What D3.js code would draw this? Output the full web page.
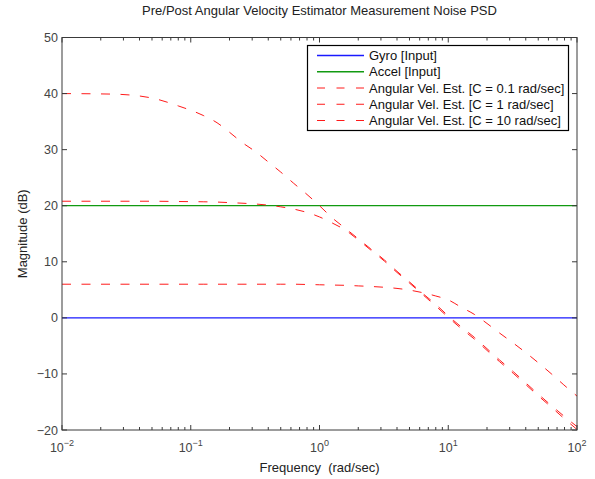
<!DOCTYPE html>
<html>
<head>
<meta charset="utf-8">
<script src="https://cdn.jsdelivr.net/npm/d3@7"></script>
<style>
  body { margin: 0; background: #fff; }
  text { font-family: "Liberation Sans", Arial, Helvetica, sans-serif; }
</style>
</head>
<body>
<div id="chart"></div>
<script>
var freq = [0.01, 0.025, 0.05, 0.08, 0.125, 0.16, 0.2, 0.25, 0.32, 0.4, 0.5, 0.63, 0.8, 1,
	    1.26, 1.6, 2, 2.5, 3.2, 4, 5, 6.3, 8, 10, 12.6, 16, 20, 25, 32, 40, 50, 63, 79, 100];
var gyro = freq.map(() => 0);
var accel = freq.map(() => 20);
var est01 = [40.0, 39.9, 39.2, 37.8, 36.1, 34.8, 33.1, 31.3, 29.6, 27.8, 26.0, 24.0, 22.0, 20.0,
	     17.8, 15.9, 14.1, 12.3, 10.3, 8.3, 6.4, 4.4, 2.4, 0.35, -1.6, -3.5, -5.5, -7.5, -9.6,
	     -11.6, -13.6, -15.6, -17.5, -19.4];
var est1 = [20.8, 20.8, 20.8, 20.75, 20.7, 20.65, 20.55, 20.45, 20.3, 20.1, 19.8, 19.4, 18.8, 18.0,
	    16.9, 15.6, 13.9, 12.1, 10.1, 8.1, 6.2, 4.2, 2.1, 0.1, -1.9, -3.8, -5.8, -7.8, -9.9,
	    -11.9, -13.9, -15.9, -17.9, -19.9];
var est10 = [6.0, 6.0, 6.0, 6.0, 6.0, 6.0, 6.0, 6.0, 6.0, 6.0, 6.0, 6.0, 5.95, 5.9,
	     5.85, 5.8, 5.7, 5.6, 5.45, 5.25, 4.95, 4.5, 3.9, 3.2, 1.9, 0.6, -1.0, -2.7, -4.5,
	     -6.2, -8.0, -9.95, -11.95, -13.95];

var series = [
    {name: 'Gyro [Input]', values: gyro, color: '#1a1aff', dash: null, width: 1.3},
    {name: 'Accel [Input]', values: accel, color: '#119a11', dash: null, width: 1.3},
    {name: 'Angular Vel. Est. [C = 0.1 rad/sec]', values: est01, color: '#ff1a1a', dash: '9,10.5', width: 1},
    {name: 'Angular Vel. Est. [C = 1 rad/sec]', values: est1, color: '#ff1a1a', dash: '9,10.5', width: 1},
    {name: 'Angular Vel. Est. [C = 10 rad/sec]', values: est10, color: '#ff1a1a', dash: '9,10.5', width: 1}
];
var xDecades = [-2, -1, 0, 1, 2];
var yTicks = [-20, -10, 0, 10, 20, 30, 40, 50];

var W = 595, H = 479;
var plotLeft = 62, plotRight = 577, plotTop = 37.5, plotBottom = 430;
var axisColor = '#3a3a3a';

var svg = d3.select('#chart').append('svg')
    .attr('width', W)
    .attr('height', H);

var x = d3.scaleLog().domain([0.01, 100]).range([plotLeft, plotRight]);
var y = d3.scaleLinear().domain([-20, 50]).range([plotBottom, plotTop]);

svg.append('defs').append('clipPath').attr('id', 'plotclip')
    .append('rect')
    .attr('x', plotLeft).attr('y', plotTop)
    .attr('width', plotRight - plotLeft).attr('height', plotBottom - plotTop);

// curves
var line = d3.line()
    .x((d, i) => x(freq[i]))
    .y(d => y(d))
    .curve(d3.curveMonotoneX);

var plot = svg.append('g').attr('clip-path', 'url(#plotclip)');
series.forEach(s => {
    plot.append('path')
	.datum(s.values)
	.attr('fill', 'none')
	.attr('stroke', s.color)
	.attr('stroke-width', s.width)
	.attr('stroke-dasharray', s.dash)
	.attr('d', line);
});

// box and ticks
var axes = svg.append('g')
    .attr('stroke', axisColor)
    .attr('stroke-width', 1)
    .attr('fill', 'none');
axes.append('rect')
    .attr('x', plotLeft).attr('y', plotTop)
    .attr('width', plotRight - plotLeft).attr('height', plotBottom - plotTop);

var minor = [];
xDecades.slice(0, -1).forEach(e => {
    for (var k = 2; k <= 9; k++) minor.push(k * Math.pow(10, e));
});
minor.forEach(f => {
    axes.append('line').attr('x1', x(f)).attr('x2', x(f)).attr('y1', plotBottom).attr('y2', plotBottom - 3);
    axes.append('line').attr('x1', x(f)).attr('x2', x(f)).attr('y1', plotTop).attr('y2', plotTop + 3);
});
xDecades.forEach(e => {
    var f = Math.pow(10, e);
    axes.append('line').attr('x1', x(f)).attr('x2', x(f)).attr('y1', plotBottom).attr('y2', plotBottom - 5);
    axes.append('line').attr('x1', x(f)).attr('x2', x(f)).attr('y1', plotTop).attr('y2', plotTop + 5);
});
yTicks.forEach(v => {
    axes.append('line').attr('x1', plotLeft).attr('x2', plotLeft + 5).attr('y1', y(v)).attr('y2', y(v));
    axes.append('line').attr('x1', plotRight).attr('x2', plotRight - 5).attr('y1', y(v)).attr('y2', y(v));
});

// tick labels
svg.selectAll('.ylab')
    .data(yTicks)
    .enter().append('text')
    .attr('x', plotLeft - 4)
    .attr('y', d => y(d) + 4.5)
    .attr('text-anchor', 'end')
    .attr('font-size', 12.5)
    .attr('fill', '#444')
    .text(d => d < 0 ? '\u2212' + Math.abs(d) : d);

xDecades.forEach(e => {
    var t = svg.append('text')
	.attr('x', x(Math.pow(10, e)))
	.attr('y', 452)
	.attr('text-anchor', 'middle')
	.attr('font-size', 12.5)
	.attr('fill', '#444');
    t.append('tspan').text('10');
    t.append('tspan')
	.attr('dy', -6)
	.attr('font-size', 9)
	.text(e < 0 ? '\u2212' + Math.abs(e) : e);
});

// title and axis labels
svg.append('text')
    .attr('x', (plotLeft + plotRight) / 2)
    .attr('y', 15)
    .attr('text-anchor', 'middle')
    .attr('font-size', 13)
    .attr('fill', '#222')
    .text('Pre/Post Angular Velocity Estimator Measurement Noise PSD');

svg.append('text')
    .attr('x', (plotLeft + plotRight) / 2)
    .attr('y', 472)
    .attr('text-anchor', 'middle')
    .attr('font-size', 13)
    .attr('fill', '#222')
    .attr('xml:space', 'preserve')
    .text('Frequency  (rad/sec)');

svg.append('text')
    .attr('transform', 'translate(' + 27 + ',' + ((plotTop + plotBottom) / 2) + ') rotate(-90)')
    .attr('text-anchor', 'middle')
    .attr('font-size', 13)
    .attr('fill', '#222')
    .text('Magnitude (dB)');

// legend
var lg = svg.append('g');
lg.append('rect')
    .attr('x', 307.5).attr('y', 45.5)
    .attr('width', 261).attr('height', 85)
    .attr('fill', '#fff')
    .attr('stroke', '#000')
    .attr('stroke-width', 1.2);
series.forEach((s, i) => {
    var ry = 55.5 + i * 16.25;
    lg.append('line')
	.attr('x1', 317).attr('x2', 364)
	.attr('y1', ry).attr('y2', ry)
	.attr('stroke', s.color)
	.attr('stroke-width', s.width)
	.attr('stroke-dasharray', s.dash ? '8,11.5' : null);
    lg.append('text')
	.attr('x', 369)
	.attr('y', ry + 4.5)
	.attr('font-size', 13)
	.attr('fill', '#111')
	.text(s.name);
});
</script>
</body>
</html>
